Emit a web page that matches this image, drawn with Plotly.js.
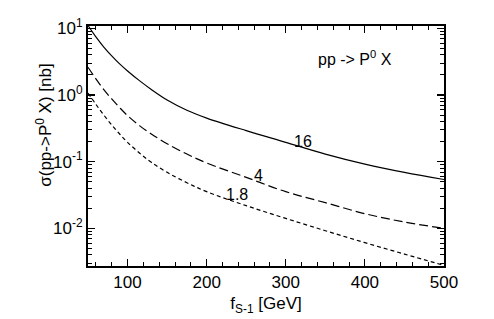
<!DOCTYPE html>
<html>
<head>
<meta charset="utf-8">
<script src="https://cdn.plot.ly/plotly-3.0.1.min.js"></script>
<style>html,body{margin:0;padding:0;background:#fff;}#chart{width:494px;height:319px;}</style>
</head>
<body>
<div id="chart"></div>
<script>
const fValues = [50, 60, 70, 80, 90, 100, 115, 130, 150, 175, 200, 250, 300, 350, 400, 450, 500];
const sigma16 = [11.0, 7.41, 5.22, 3.85, 2.92, 2.29, 1.64, 1.21, 0.84, 0.59, 0.45, 0.292, 0.195, 0.130, 0.092, 0.069, 0.054];
const sigma4 = [2.6, 1.74, 1.20, 0.871, 0.646, 0.49, 0.347, 0.26, 0.186, 0.130, 0.0955, 0.0582, 0.0355, 0.0243, 0.0166, 0.01245, 0.0100];
const sigma18 = [1.07, 0.724, 0.50, 0.355, 0.26, 0.195, 0.135, 0.0977, 0.0692, 0.0484, 0.0355, 0.0219, 0.0141, 0.00923, 0.0061, 0.00412, 0.00279];
const curveLabels = ["16", "4", "1.8"];
const labelX = [322, 265, 238];
const labelY = [0.20, 0.062, 0.032];
const yTickVals = [0.01, 0.1, 1, 10];
const yTickText = ["10<sup>-2</sup>", "10<sup>-1</sup>", "10<sup>0</sup>", "10<sup>1</sup>"];
const xTickVals = [100, 200, 300, 400, 500];
const yTitle = "σ(pp->P<sup>0</sup> X) [nb]";
const xTitle = "f<sub>S-1</sub> [GeV]";
const processLabel = "pp -> P<sup>0</sup> X";

const font = "Liberation Sans, Arial, Helvetica, sans-serif";
const series = [sigma16, sigma4, sigma18];
const dashes = ["solid", "9px,4px", "4px,3px"];
const traces = series.map((s, i) => ({
  x: fValues, y: s, type: "scatter", mode: "lines",
  line: {color: "#000", width: 1.2, dash: dashes[i], shape: "spline", smoothing: 1},
  hoverinfo: "skip", showlegend: false
}));

const annotations = curveLabels.map((t, i) => ({
  x: labelX[i], y: Math.log10(labelY[i]), text: t, showarrow: false,
  font: {family: font, size: 16, color: "#000"}
}));
annotations.push({
  x: 388, y: 0.555, text: processLabel, showarrow: false,
  font: {family: font, size: 16, color: "#000"}
});
annotations.push({
  xref: "paper", yref: "paper", x: -0.126, y: 0.585, textangle: -90,
  xanchor: "center", yanchor: "middle", text: yTitle, showarrow: false,
  font: {family: font, size: 17, color: "#000"}
});

const yMinor = [];
for (let k = -3; k <= 1; k++) for (let m = 2; m <= 9; m++) yMinor.push(m * Math.pow(10, k));

const layout = {
  width: 494, height: 319,
  margin: {l: 88, r: 50, t: 26, b: 53},
  paper_bgcolor: "#fff", plot_bgcolor: "#fff",
  font: {family: font, size: 17, color: "#000"},
  xaxis: {
    range: [50, 500], tickmode: "array", tickvals: xTickVals,
    ticks: "inside", ticklen: 7, tickwidth: 1.2, tickcolor: "#000",
    minor: {dtick: 20, tick0: 0, ticks: "inside", ticklen: 4, tickwidth: 1, tickcolor: "#000", showgrid: false},
    showline: true, linewidth: 2, linecolor: "#000", mirror: "ticks",
    showgrid: false, zeroline: false,
    tickfont: {family: font, size: 17},
    title: {text: xTitle, font: {family: font, size: 17}, standoff: 6}
  },
  yaxis: {
    type: "log", range: [-2.564, 1.034],
    tickmode: "array", tickvals: yTickVals, ticktext: yTickText,
    ticks: "inside", ticklen: 7, tickwidth: 1.2, tickcolor: "#000",
    minor: {tickmode: "array", tickvals: yMinor, ticks: "inside", ticklen: 4, tickwidth: 1, tickcolor: "#000", showgrid: false},
    showline: true, linewidth: 2, linecolor: "#000", mirror: "ticks",
    showgrid: false, zeroline: false,
    tickfont: {family: font, size: 17}
  },
  annotations: annotations
};

Plotly.newPlot("chart", traces, layout, {staticPlot: true, displayModeBar: false});
</script>
</body>
</html>
